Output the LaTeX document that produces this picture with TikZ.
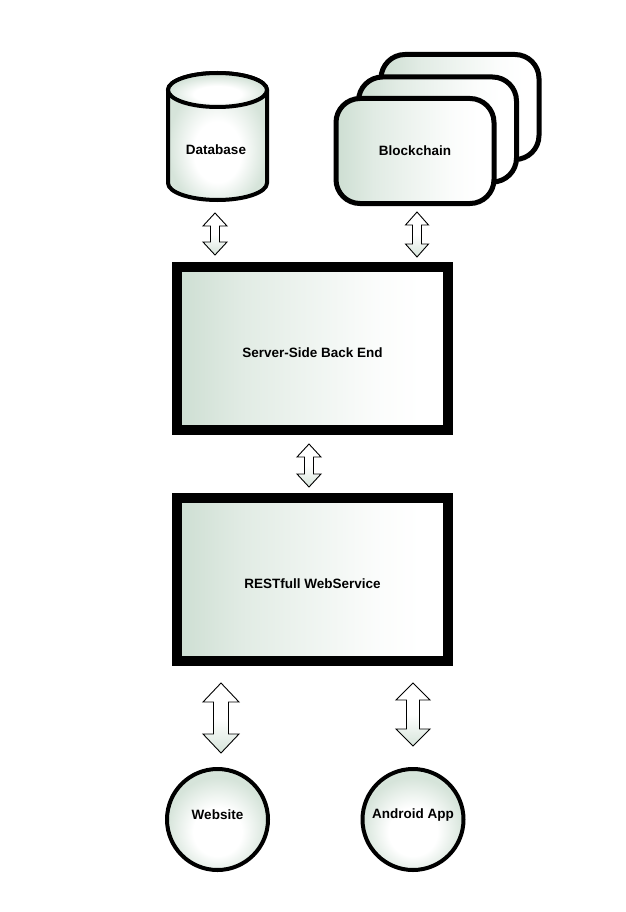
\documentclass[tikz,border=0pt]{standalone}
\usepackage{fontspec}
\setmainfont{Liberation Sans}
\begin{document}
\begin{tikzpicture}[x=1pt,y=-1pt]
\definecolor{gf}{RGB}{205,222,210}
\definecolor{gl}{RGB}{214,228,218}
\pgfdeclarehorizontalshading{lrfade}{100bp}{color(0bp)=(gf); color(25bp)=(gf); color(37bp)=(gf!60!white); color(50bp)=(gf!32!white); color(62bp)=(gf!8!white); color(70bp)=(white); color(100bp)=(white)}
\pgfdeclareradialshading{softball}{\pgfpoint{0bp}{-8bp}}{color(0bp)=(white); color(12bp)=(white); color(25bp)=(gl); color(50bp)=(gl)}
\tikzset{
  lbl/.style={font=\fontsize{13.5}{16}\selectfont\bfseries, text=black},
  bigbox/.style={draw=black, line width=10pt, minimum width=271pt, minimum height=163pt, inner sep=0pt, shading=lrfade},
  chainbox/.style={draw=black, line width=5pt, rounded corners=24pt, minimum width=158pt, minimum height=105pt, inner sep=0pt, shading=lrfade},
  client/.style={draw=black, line width=4pt, circle, minimum size=101pt, inner sep=0pt, shading=softball},
  arr/.style={draw=black, line width=0.9pt, line join=miter, top color=white, bottom color=gl, middle color=white}
}
\useasboundingbox (0,0) rectangle (625,912);
% double arrow macro: #1 x, #2 top, #3 bottom, #4 half shaft, #5 half head, #6 head length
\newcommand{\dblarr}[6]{%
  \path[arr] (#1,#2) -- (#1+#5,#2+#6) -- (#1+#4,#2+#6) -- (#1+#4,#3-#6) -- (#1+#5,#3-#6) -- (#1,#3)
    -- (#1-#5,#3-#6) -- (#1-#4,#3-#6) -- (#1-#4,#2+#6) -- (#1-#5,#2+#6) -- cycle;}
% Database cylinder
\path[line width=4pt, draw=black, shading=softball]
  (168,90) -- (168,183) arc[start angle=180, end angle=0, x radius=49.5, y radius=17] -- (267,90)
  arc[start angle=0, end angle=-180, x radius=49.5, y radius=17] -- cycle;
\path[line width=4pt, draw=black, shading=softball] (217.5,90) ellipse[x radius=49.5, y radius=17];
\node[lbl] (db) at (216,150) {Database};
% Blockchain stack
\node[chainbox] (bc3) at (460,107) {};
\node[chainbox] (bc2) at (437.5,129.5) {};
\node[chainbox] (bc) at (415,151) {};
\node[lbl] (bct) at (bc.center) {Blockchain};
% Main boxes
\node[bigbox] (srv) at (312.5,348.5) {};
\node[lbl] (srvt) at ([yshift=-4.5pt]srv.center) {Server-Side Back End};
\node[bigbox] (rest) at (312.5,579.5) {};
\node[lbl] (restt) at ([yshift=-4.5pt]rest.center) {RESTfull WebService};
% Clients
\node[client] (web) at (217.5,819.5) {};
\node[lbl] (webt) at ([yshift=4.5pt]web.center) {Website};
\node[client] (app) at (413,819.5) {};
\node[lbl] (appt) at ([yshift=4.5pt]app.center) {Android App};
% Connectors (double arrows)
\dblarr{215}{213}{255}{4.5}{12}{13}
\dblarr{417}{212}{257}{4.5}{11.5}{13}
\dblarr{309}{444}{487}{4.5}{12}{13}
\dblarr{221}{683}{753}{7.5}{18}{19}
\dblarr{413}{683}{746}{6.5}{17}{17}
\end{tikzpicture}
\end{document}
